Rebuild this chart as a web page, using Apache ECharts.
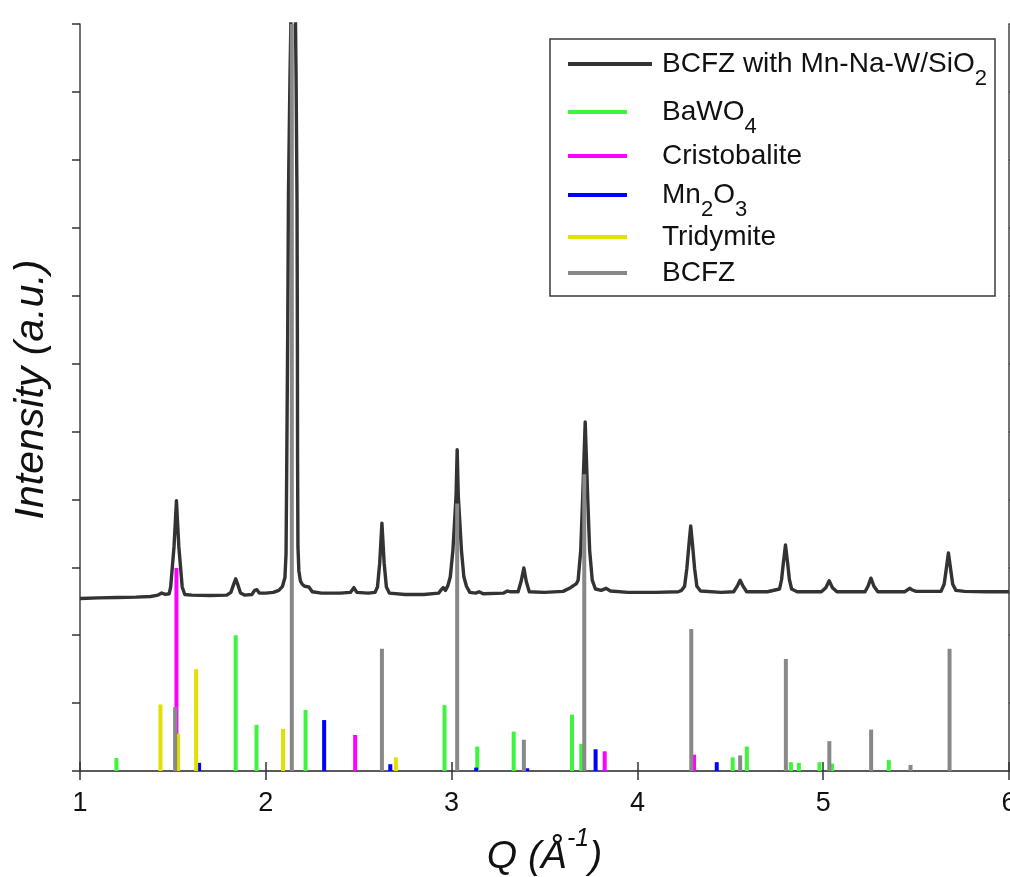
<!DOCTYPE html>
<html>
<head>
<meta charset="utf-8">
<title>XRD pattern – BCFZ with Mn-Na-W/SiO2</title>
<script src="https://cdn.jsdelivr.net/npm/echarts@6/dist/echarts.min.js"></script>
<style>
  html, body { margin: 0; padding: 0; background: #fff; overflow: hidden; }
  #chart { width: 1010px; height: 877px; }
</style>
</head>
<body>
<div id="chart"></div>
<script>
// Measured diffraction scan: scattering vector Q (1/Å) and intensity (a.u., offset)
const scanQ = [
  1.00, 1.10, 1.20, 1.30, 1.38, 1.42, 1.44, 1.46, 1.48,
  1.488, 1.506, 1.519, 1.532, 1.550, 1.564, 1.60, 1.70, 1.79,
  1.812, 1.826, 1.838, 1.850, 1.864, 1.885, 1.925, 1.940, 1.952, 1.965,
  2.00, 2.04, 2.07, 2.09, 2.103, 2.109, 2.113, 2.118, 2.122, 2.130, 2.138,
  2.150, 2.158, 2.163, 2.168, 2.170, 2.171, 2.173, 2.178, 2.186, 2.196,
  2.210, 2.232, 2.250, 2.30, 2.40, 2.455, 2.474, 2.490, 2.55,
  2.588, 2.601, 2.613, 2.625, 2.637, 2.649, 2.665, 2.75, 2.85,
  2.93, 2.945, 2.955, 2.967, 2.980, 2.993, 3.007, 3.024, 3.030, 3.036,
  3.053, 3.066, 3.080, 3.098, 3.13, 3.148, 3.17, 3.28, 3.300, 3.315,
  3.358, 3.374, 3.389, 3.402, 3.418, 3.50, 3.60, 3.640, 3.672, 3.681,
  3.695, 3.705, 3.719, 3.733, 3.743, 3.757, 3.774, 3.805, 3.832, 3.855,
  3.95, 4.10, 4.22, 4.238, 4.254, 4.266, 4.278, 4.287, 4.296, 4.308,
  4.320, 4.340, 4.45, 4.518, 4.539, 4.553, 4.567, 4.588, 4.70,
  4.765, 4.776, 4.785, 4.797, 4.809, 4.818, 4.830, 4.860,
  4.99, 5.014, 5.032, 5.050, 5.074, 5.225, 5.241, 5.257, 5.273, 5.294,
  5.440, 5.455, 5.467, 5.480, 5.500, 5.634, 5.651, 5.661, 5.674, 5.687,
  5.697, 5.714, 5.760, 5.88, 6.00
];
const scanIntensity = [
  2.54, 2.55, 2.555, 2.56, 2.57, 2.59, 2.62, 2.60, 2.61,
  2.71, 3.30, 3.98, 3.30, 2.71, 2.60, 2.59, 2.585, 2.59,
  2.63, 2.74, 2.83, 2.74, 2.62, 2.59, 2.60, 2.66, 2.67, 2.62,
  2.62, 2.63, 2.66, 2.72, 2.85, 3.20, 4.60, 6.50, 8.50, 10.20, 11.50,
  13.00, 11.50, 10.20, 8.40, 6.40, 4.60, 3.30, 2.95, 2.80, 2.75,
  2.72, 2.71, 2.64, 2.62, 2.62, 2.63, 2.70, 2.63, 2.62,
  2.63, 2.71, 3.06, 3.65, 3.06, 2.71, 2.62, 2.60, 2.60,
  2.62, 2.67, 2.70, 2.66, 2.73, 2.86, 3.25, 4.05, 4.73, 4.05,
  3.25, 2.86, 2.72, 2.63, 2.62, 2.64, 2.61, 2.62, 2.65, 2.64,
  2.64, 2.79, 2.99, 2.79, 2.64, 2.63, 2.645, 2.70, 2.76, 2.81,
  3.25, 3.99, 5.14, 3.99, 3.25, 2.81, 2.68, 2.66, 2.69, 2.65,
  2.63, 2.63, 2.64, 2.66, 2.72, 2.98, 3.35, 3.61, 3.35, 2.98,
  2.72, 2.65, 2.63, 2.64, 2.73, 2.81, 2.73, 2.64, 2.64,
  2.68, 2.82, 3.05, 3.33, 3.05, 2.82, 2.68, 2.64,
  2.64, 2.70, 2.80, 2.70, 2.64, 2.64, 2.72, 2.84, 2.72, 2.64,
  2.64, 2.67, 2.69, 2.665, 2.645, 2.645, 2.75, 2.95, 3.21, 2.95,
  2.75, 2.66, 2.645, 2.64, 2.64
];

// Reference peak positions (Q) and relative intensities for each phase
const bawo4Q = [1.196, 1.838, 1.950, 2.214, 2.962, 3.138, 3.334, 3.648, 3.698, 4.513, 4.589, 4.826, 4.869, 4.980, 5.048, 5.353];
const bawo4I = [0.19, 2.00, 0.68, 0.90, 0.97, 0.36, 0.58, 0.83, 0.40, 0.20, 0.36, 0.13, 0.12, 0.13, 0.11, 0.16];

const cristobaliteQ = [1.519, 2.481, 3.824, 4.305];
const cristobaliteI = [2.99, 0.53, 0.29, 0.24];

const mn2o3Q = [1.641, 2.314, 2.670, 3.132, 3.407, 3.775, 4.427];
const mn2o3I = [0.12, 0.75, 0.10, 0.05, 0.04, 0.32, 0.13];

const tridymiteQ = [1.433, 1.528, 1.625, 2.093, 2.700];
const tridymiteI = [0.98, 0.55, 1.50, 0.62, 0.20];

const bcfzQ = [1.512, 2.140, 2.625, 3.030, 3.389, 3.714, 4.290, 4.553, 4.799, 5.033, 5.258, 5.470, 5.680];
const bcfzI = [0.94, 11.00, 1.80, 3.94, 0.46, 4.37, 2.09, 0.23, 1.65, 0.44, 0.61, 0.09, 1.80];

// Axis ticks
const xTicks = [1, 2, 3, 4, 5, 6];
const yTickCount = 11;

const FONT = "'Liberation Sans', Arial, Helvetica, sans-serif";

const phases = [
  { name: 'BaWO4',        q: bawo4Q,        v: bawo4I,        color: '#3cf53c' },
  { name: 'Cristobalite', q: cristobaliteQ, v: cristobaliteI, color: '#ff00ff' },
  { name: 'Mn2O3',        q: mn2o3Q,        v: mn2o3I,        color: '#0000ff' },
  { name: 'Tridymite',    q: tridymiteQ,    v: tridymiteI,    color: '#e3e000' },
  { name: 'BCFZ',         q: bcfzQ,         v: bcfzI,         color: '#888888' }
];

const zip = (a, b) => a.map((x, i) => [x, b[i]]);

const series = [{
  name: 'BCFZ with Mn-Na-W/SiO2',
  type: 'line',
  data: zip(scanQ, scanIntensity),
  showSymbol: false,
  symbol: 'none',
  clip: true,
  z: 1,
  lineStyle: { color: '#333333', width: 3.4, join: 'round' },
  itemStyle: { color: '#333333' }
}];
phases.forEach(p => {
  series.push({
    name: p.name,
    type: 'bar',
    data: zip(p.q, p.v),
    barWidth: 4,
    barGap: '-100%',
    clip: true,
    z: 2,
    itemStyle: { color: p.color }
  });
});

// Legend rows: label markup (with subscripts), vertical centre, sample length
const mainTxt = { fontSize: 28, fontFamily: FONT, color: '#111', lineHeight: 28, padding: [13, 0, 13, 0], verticalAlign: 'middle' };
const subTxt  = { fontSize: 22, fontFamily: FONT, color: '#111', lineHeight: 22, padding: [29, 0, 0, 0], verticalAlign: 'middle' };
const gapTxt  = (w) => ({ width: w, fontSize: 10, lineHeight: 10 });

const legendRows = [
  { name: 'BCFZ with Mn-Na-W/SiO2', text: '{g|}{m|BCFZ with Mn-Na-W/SiO}{s|2}', cy: 64,  w: 84, gap: 5 },
  { name: 'BaWO4',        text: '{g|}{m|BaWO}{s|4}',           cy: 112, w: 59, gap: 30 },
  { name: 'Cristobalite', text: '{g|}{m|Cristobalite}',         cy: 156, w: 59, gap: 30 },
  { name: 'Mn2O3',        text: '{g|}{m|Mn}{s|2}{m|O}{s|3}',    cy: 195, w: 59, gap: 30 },
  { name: 'Tridymite',    text: '{g|}{m|Tridymite}',            cy: 237, w: 59, gap: 30 },
  { name: 'BCFZ',         text: '{g|}{m|BCFZ}',                 cy: 273, w: 59, gap: 30 }
];

const legends = legendRows.map(r => ({
  show: true,
  data: [r.name],
  left: 568,
  top: r.cy - 27,
  orient: 'vertical',
  padding: 0,
  itemWidth: r.w,
  itemHeight: 4,
  icon: 'rect',
  selectedMode: false,
  z: 6,
  formatter: () => r.text,
  textStyle: {
    rich: { g: gapTxt(r.gap), m: mainTxt, s: subTxt }
  }
}));

const tickLine = { color: '#333', width: 1.5 };
const axisLine = { show: true, lineStyle: { color: '#505050', width: 1.6 } };

const option = {
  backgroundColor: '#ffffff',
  animation: false,
  grid: { left: 80, right: 1, top: 24, bottom: 106, containLabel: false, outerBoundsMode: 'none' },
  legend: legends,
  xAxis: [{
    type: 'value',
    position: 'bottom',
    min: xTicks[0],
    max: xTicks[xTicks.length - 1],
    interval: 1,
    axisLine: axisLine,
    axisTick: { show: true, inside: false, length: 9, lineStyle: tickLine },
    axisLabel: { show: true, fontSize: 27, fontFamily: FONT, color: '#111', margin: 19, hideOverlap: false },
    splitLine: { show: false },
    name: '{q|Q (Å}{p|-1}{q|)}',
    nameLocation: 'middle',
    nameGap: 56,
    nameTextStyle: {
      rich: {
        q: { fontSize: 39, fontStyle: 'italic', fontFamily: FONT, color: '#111', lineHeight: 50, verticalAlign: 'bottom' },
        p: { fontSize: 25, fontStyle: 'italic', fontFamily: FONT, color: '#111', lineHeight: 25, verticalAlign: 'top' }
      }
    }
  }, {
    type: 'value',
    position: 'top',
    min: xTicks[0],
    max: xTicks[xTicks.length - 1],
    interval: 1,
    axisLine: axisLine,
    axisTick: { show: true, inside: false, length: 9, lineStyle: tickLine },
    axisLabel: { show: false },
    splitLine: { show: false }
  }],
  yAxis: [{
    type: 'value',
    position: 'left',
    min: 0,
    max: yTickCount,
    interval: 1,
    axisLine: axisLine,
    axisTick: { show: true, inside: false, length: 8, lineStyle: tickLine },
    axisLabel: { show: false },
    splitLine: { show: false },
    name: 'Intensity (a.u.)',
    nameLocation: 'middle',
    nameGap: 28,
    nameTextStyle: { fontSize: 41, fontStyle: 'italic', fontFamily: FONT, color: '#111', padding: [0, 0, 0, 16] }
  }, {
    type: 'value',
    position: 'right',
    min: 0,
    max: yTickCount,
    interval: 1,
    axisLine: axisLine,
    axisTick: { show: true, inside: false, length: 8, lineStyle: tickLine },
    axisLabel: { show: false },
    splitLine: { show: false }
  }],
  graphic: [{
    type: 'rect',
    z: 5,
    shape: { x: 550, y: 39, width: 445, height: 257 },
    style: { fill: '#ffffff', stroke: '#3a3a3a', lineWidth: 1.5 }
  }],
  series: series
};

const chart = echarts.init(document.getElementById('chart'), null, { renderer: 'canvas' });
chart.setOption(option);
</script>
</body>
</html>
